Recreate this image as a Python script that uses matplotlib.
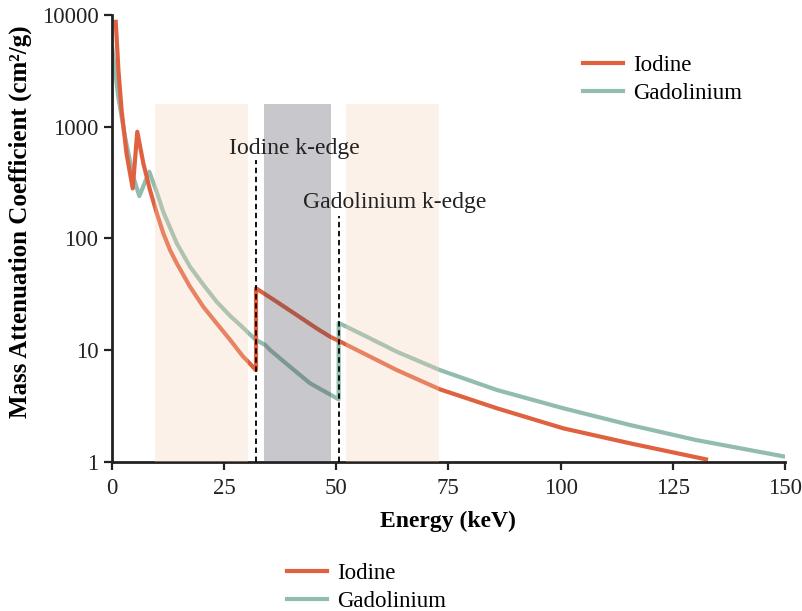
import matplotlib
matplotlib.use("Agg")
import matplotlib.pyplot as plt
from matplotlib.lines import Line2D

# ---------------- data ----------------
iodine_energy = [0.9, 1.5, 2.2, 3.3, 4.68, 5.7, 7.05, 8.53, 10.0, 11.5, 13.0, 14.5, 17.45,
                 20.4, 23.4, 26.4, 29.3, 30.4, 31.9, 32.15, 32.15, 36.8, 41.2, 45.7, 48.6,
                 50.9, 56.1, 63.5, 73.1, 85.8, 100.6, 115.5, 132.4]
iodine_mu = [8690, 3210, 1410, 577, 280, 900, 469, 271, 170, 111, 78.5, 59.7, 36.9,
             24.4, 17.3, 12.3, 8.71, 7.86, 6.75, 6.6, 35.7, 27, 20.6, 15.6, 13.2,
             11.9, 9.34, 6.62, 4.45, 3.01, 1.99, 1.46, 1.05]

gd_energy = [0.1, 1.47, 2.96, 4.8, 6.15, 8.38, 10.03, 11.5, 14.5, 17.45, 20.4, 23.4,
             26.4, 29.3, 30.4, 32.15, 34.2, 35.3, 39.7, 44.2, 50.56, 50.56, 56.1, 63.5,
             73.1, 85.8, 100.6, 115.5, 130.3, 150]
gd_mu = [5190, 1850, 812, 356, 239, 395, 260, 172, 90.2, 55.7, 38.5, 27.0,
         20.2, 15.8, 14.3, 12.3, 11.1, 10.0, 7.1, 5.03, 3.62, 17.5, 13.6, 9.66,
         6.62, 4.39, 3.01, 2.13, 1.56, 1.11]

k_edges = [32.15, 50.56]
k_edge_tops = [500, 160]
k_edge_labels = ["Iodine k-edge", "Gadolinium k-edge"]
k_label_x = [40.8, 63.0]
k_label_y = [640, 210]

peach_bands = [(9.65, 30.4), (52.2, 73.0)]
gray_band = (33.9, 48.9)
band_top = 1600

x_ticks = [0, 25, 50, 75, 100, 125, 150]
y_ticks = [1, 10, 100, 1000, 10000]
series_names = ["Iodine", "Gadolinium"]

# ---------------- style ----------------
plt.rcParams['font.family'] = ['Liberation Serif', 'DejaVu Serif']
orange = "#e0613f"
green = "#92bcaf"
fs = 16.5
lw = 3.0

fig = plt.figure(figsize=(8.02, 6.11), dpi=100)
ax = fig.add_axes([111.7 / 802, 1 - 461.7 / 611, (785 - 111.7) / 802, (461.7 - 15) / 611])

ax.plot(gd_energy, gd_mu, color=green, lw=lw, solid_joinstyle='round', zorder=2)
ax.plot(iodine_energy, iodine_mu, color=orange, lw=lw, solid_joinstyle='round', zorder=2)

for x0, x1 in peach_bands:
    ax.fill_between([x0, x1], 1, band_top, color="#f8d2b4", alpha=0.3, lw=0, zorder=3)
ax.fill_between(list(gray_band), 1, band_top, color="#4b4658", alpha=0.3, lw=0, zorder=3)

for xe, top, lab, lx, ly in zip(k_edges, k_edge_tops, k_edge_labels, k_label_x, k_label_y):
    ax.plot([xe, xe], [1, top], color="black", lw=1.3, ls=(0, (3, 2)), zorder=4)
    ax.text(lx, ly, lab, ha='center', va='center', fontsize=17, color="#222222", zorder=5)

ax.set_yscale('log')
ax.set_xlim(0, 150)
ax.set_ylim(1, 10000)
ax.set_xticks(x_ticks)
ax.set_xticklabels([str(t) for t in x_ticks])
ax.set_yticks(y_ticks)
ax.set_yticklabels([str(t) for t in y_ticks])
ax.minorticks_off()
ax.tick_params(labelsize=fs, length=6, width=1.6, colors="#222222")
ax.tick_params(axis='x', pad=6)
for s in ['top', 'right']:
    ax.spines[s].set_visible(False)
for s in ['left', 'bottom']:
    ax.spines[s].set_linewidth(2)
    ax.spines[s].set_color("#222222")

ax.set_xlabel("Energy (keV)", fontsize=17, fontweight='bold', labelpad=8)
ax.set_ylabel("Mass Attenuation Coefficient (cm²/g)", fontsize=18, fontweight='bold')
ax.yaxis.set_label_coords(-80 / 673.3, (461.7 - 222) / 446.7)

handles = [Line2D([], [], color=orange, lw=lw), Line2D([], [], color=green, lw=lw)]
leg_kw = dict(frameon=False, fontsize=fs, handlelength=1.75, handletextpad=0.45,
              labelspacing=0.3, borderpad=0, borderaxespad=0, loc='upper left')
ax.legend(handles, series_names, bbox_to_anchor=(583 / 802, 1 - 55 / 611),
          bbox_transform=fig.transFigure, **leg_kw)
fig.legend(handles, series_names, bbox_to_anchor=(287 / 802, 1 - 563 / 611), **leg_kw)

fig.savefig("out.png", dpi=100)
